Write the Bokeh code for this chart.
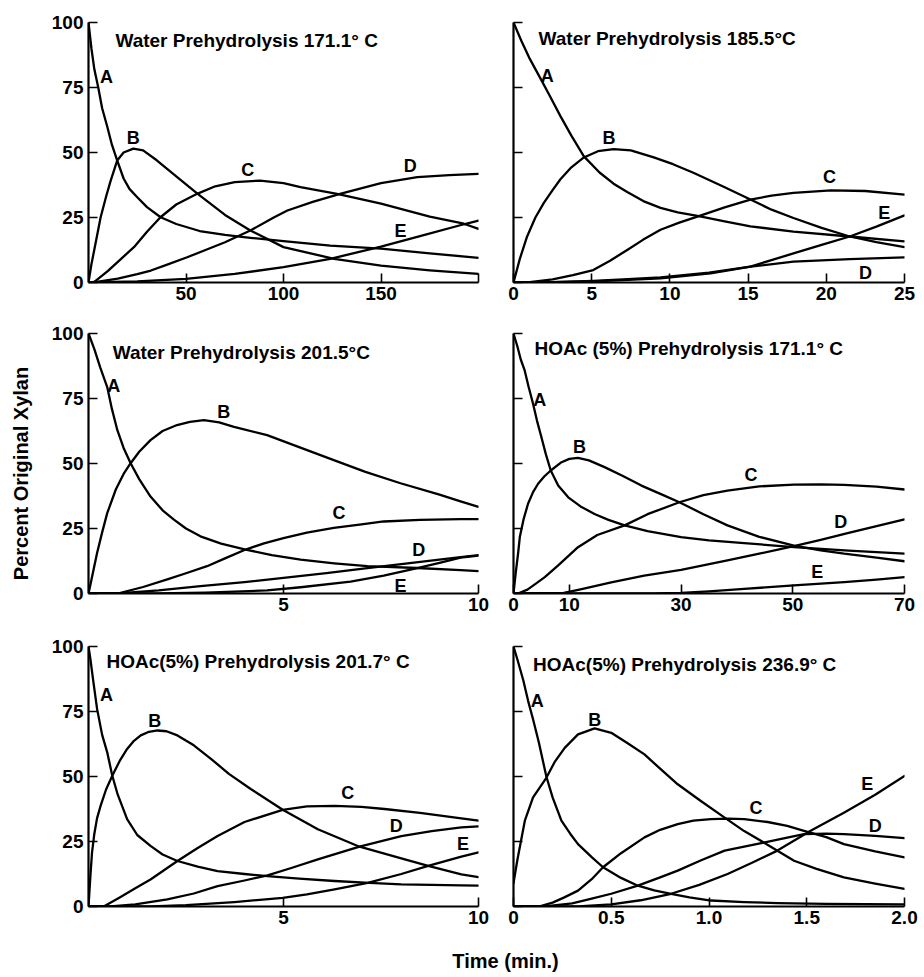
import math
from bokeh.plotting import figure
from bokeh.layouts import row, column
from bokeh.models import Range1d, FixedTicker, Label
from bokeh.core.properties import value
from bokeh.embed import file_html
from bokeh.resources import INLINE

FONT = "Liberation Sans"

# ---------------- data ----------------
# Panel 1: Water Prehydrolysis 171.1 C, time 0..200 min
P1_A_T = [0, 1.5, 3, 5, 7, 9.6, 12, 14.7, 18, 21, 25, 30, 37, 45, 57, 70, 83, 100, 124, 150, 175, 200]
P1_A = [100, 90, 82, 75, 67, 60, 53, 47, 40, 36, 32.8, 29, 25.1, 22.5, 19.8, 18.3, 17.2, 15.9, 14.2, 13, 11.2, 9.5]
P1_B_T = [0, 1.5, 3.6, 6.2, 9, 11.3, 14.7, 18, 23, 28, 35, 45, 56, 70, 83, 100, 126, 150, 175, 200]
P1_B = [0, 7, 15, 25, 33, 39, 46.9, 50, 51.5, 50.8, 47, 40.8, 34.1, 26, 20, 13.6, 9.1, 6.5, 4.7, 3.3]
P1_C_T = [0, 3, 10, 17, 23.3, 30, 36.9, 45, 55.7, 65, 75, 88, 100, 108.7, 127.5, 150, 175, 192.5, 200]
P1_C = [0, 0.2, 4.5, 9.3, 13.6, 19.5, 25.1, 30, 34.1, 37, 38.6, 39.2, 38.2, 36.7, 34.1, 30.3, 25.3, 22.6, 20.6]
P1_D_T = [0, 5, 15, 25, 32, 40, 50.6, 60, 70, 83, 95, 102, 115, 129, 150, 168.6, 185, 200]
P1_D = [0, 0.3, 1.5, 3.2, 4.6, 6.8, 9.7, 12.5, 15.5, 20, 25, 27.7, 31, 34.1, 38.2, 40.5, 41.3, 41.8]
P1_E_T = [0, 25, 50, 75, 100, 124, 150, 170, 192.5, 200]
P1_E = [0, 0.4, 1.4, 3.3, 5.9, 9.1, 13.8, 17.8, 22.4, 23.8]

# Panel 2: Water Prehydrolysis 185.5 C, time 0..25 min
P2_A_T = [0, 0.5, 1, 1.73, 2.3, 3, 3.7, 4.5, 5.5, 6.4, 7.27, 8.3, 9.4, 10.5, 11.85, 13.5, 15.15, 17.9, 21.5, 25]
P2_A = [100, 93, 86.5, 78.4, 72, 64, 56.5, 48.5, 42.3, 38, 34.8, 31.3, 28.7, 27, 25.5, 23.5, 21.6, 19.6, 17.7, 15.8]
P2_B_T = [0, 0.4, 0.87, 1.4, 1.94, 2.5, 3, 3.7, 4.5, 5.4, 6.4, 7.5, 8.97, 10.2, 11.5, 13.3, 15.15, 16.5, 17.9, 19.7, 21.5, 23.2, 25]
P2_B = [0, 9, 17.7, 25, 30.6, 35.5, 39.7, 44.3, 48.1, 50.5, 51.3, 50.8, 48.1, 45.5, 42.2, 37.2, 31.9, 28, 24.8, 21, 17.7, 15.5, 13.6]
P2_C_T = [0, 0.9, 2.5, 3.8, 5.1, 6.2, 7.27, 8.3, 9.4, 10.6, 11.85, 13.5, 15.15, 16.5, 17.9, 20.3, 22.5, 25]
P2_C = [0, 0, 1.2, 2.8, 4.8, 8.5, 12.5, 16.5, 20.3, 23, 25.5, 28.9, 31.9, 33.4, 34.5, 35.4, 35.2, 33.8]
P2_D_T = [0, 2.5, 5.1, 7, 9.4, 12.5, 15.15, 17.9, 21.5, 25]
P2_D = [0, 0.1, 0.6, 1.2, 2.0, 3.8, 6.1, 8, 9, 9.7]
P2_E_T = [0, 2.5, 5.1, 7, 9.4, 12.6, 15.15, 17.9, 19.7, 21.5, 23.2, 25]
P2_E = [0, 0.1, 0.4, 0.9, 1.6, 3.5, 6.1, 11.2, 14.5, 17.7, 21.5, 25.8]

# Panel 3: Water Prehydrolysis 201.5 C, time 0..10 min
P3_A_T = [0, 0.15, 0.3, 0.48, 0.6, 0.74, 0.9, 1.08, 1.3, 1.59, 1.9, 2.19, 2.5, 2.87, 3.4, 4.03, 4.7, 5.44, 6.3, 7.15, 8.43, 9.54, 10]
P3_A = [100, 94, 87, 79.4, 71, 62.8, 56, 50.1, 44, 37.3, 32, 28.4, 25, 22, 19.2, 16.9, 14.8, 13, 11.6, 10.5, 9.8, 9.0, 8.6]
P3_B_T = [0, 0.05, 0.12, 0.22, 0.35, 0.48, 0.7, 0.9, 1.08, 1.3, 1.59, 1.9, 2.27, 2.6, 2.96, 3.35, 3.73, 4.58, 5.4, 6.29, 7.1, 8, 9, 9.54, 10]
P3_B = [0, 3.5, 8.5, 15.6, 23.5, 30.9, 40, 46, 50.1, 54.5, 59, 62.5, 64.8, 66, 66.7, 65.8, 64.1, 60.9, 56.3, 51.3, 46.8, 42.4, 38, 35.4, 33.3]
P3_C_T = [0, 0.75, 1.4, 2.02, 2.5, 3.04, 3.5, 4.03, 4.5, 5, 5.6, 6.29, 7, 7.57, 8.5, 9.54, 10]
P3_C = [0, 0, 2.5, 5.4, 7.8, 10.5, 13.5, 16.9, 19.3, 21.3, 23.4, 25.2, 26.6, 27.7, 28.3, 28.6, 28.6]
P3_D_T = [0, 0.75, 1.8, 2.87, 4, 5, 6.1, 7.15, 8.4, 9.54, 10]
P3_D = [0, 0, 1.2, 2.8, 4.4, 6, 7.8, 9.8, 12, 14, 14.8]
P3_E_T = [0, 1.76, 3, 4.58, 5.44, 6.72, 7.57, 8.43, 9, 9.54, 10]
P3_E = [0, 0, 0.3, 1.2, 2.4, 4.6, 6.9, 9.8, 11.8, 13.8, 14.6]

# Panel 4: HOAc (5%) Prehydrolysis 171.1 C, time 0..70 min
P4_A_T = [0, 0.7, 1.3, 2, 2.7, 3.5, 4.2, 5, 5.8, 6.67, 8, 9.8, 12, 14.5, 17, 19.9, 24, 30, 35, 41.3, 50.2, 60, 70]
P4_A = [100, 95, 90, 85.8, 79.5, 73, 66.5, 60.1, 53.5, 47.3, 41.5, 37, 33.5, 30.6, 28.3, 26.2, 24, 21.7, 20.4, 19.4, 17.8, 16.5, 15.3]
P4_B_T = [0, 0.4, 0.8, 1.13, 1.8, 2.6, 3.5, 4.4, 5.5, 6.67, 8.6, 10, 11.55, 13.5, 16.3, 19.5, 22.9, 26.3, 29.7, 34, 38.3, 44, 50.2, 55, 59.2, 65, 70]
P4_B = [0, 8, 15, 21.7, 28.5, 34.5, 39, 42.2, 45, 47.3, 50.5, 51.8, 52.2, 51.2, 48.6, 45.3, 41.5, 38.3, 35.1, 30.5, 26.2, 21.8, 18.4, 16.6, 15.3, 13.8, 12.4]
P4_C_T = [0, 0.8, 2.5, 4, 5.6, 8, 11.55, 15, 19.9, 24, 29.7, 34, 38.3, 44, 50.2, 55, 59.2, 65, 70]
P4_C = [0, 0, 1.5, 3.8, 6.3, 10.8, 17.8, 22.5, 26.2, 30.5, 35.1, 37.8, 39.6, 41.2, 41.9, 42, 41.8, 41.1, 40]
P4_D_T = [0, 9, 12, 17.5, 23.4, 30, 38.3, 44, 50.2, 55, 60, 65, 70]
P4_D = [0, 0.2, 1.6, 4.3, 6.9, 9.1, 12.7, 15.3, 18.2, 20.6, 23.3, 25.9, 28.5]
P4_E_T = [0, 25, 30, 35, 41.3, 50.2, 59.2, 65, 70]
P4_E = [0, 0, 0.2, 0.8, 1.8, 3.1, 4.4, 5.3, 6.3]

# Panel 5: HOAc (5%) Prehydrolysis 201.7 C, time 0..10 min
P5_A_T = [0, 0.05, 0.12, 0.22, 0.35, 0.48, 0.61, 0.75, 0.99, 1.25, 1.59, 1.9, 2.28, 2.8, 3.31, 4, 4.59, 5.4, 6.31, 7.2, 8.02, 9.56, 10]
P5_A = [100, 95, 87, 76, 66, 59.3, 50.3, 43, 33.6, 27.5, 23.3, 20, 17.5, 15.3, 13.6, 12.5, 11.7, 10.7, 9.8, 9.1, 8.5, 8.1, 8.0]
P5_B_T = [0, 0.05, 0.09, 0.15, 0.22, 0.31, 0.45, 0.61, 0.8, 0.99, 1.15, 1.34, 1.55, 1.77, 2, 2.28, 2.7, 3.14, 3.6, 4.16, 4.98, 5.88, 6.95, 8.02, 8.71, 9.56, 10]
P5_B = [0, 12, 20.7, 28, 34, 38.7, 45, 50.3, 56, 60.6, 63.5, 65.8, 67.2, 67.7, 67.4, 65.8, 62, 56.8, 51, 45.2, 37.2, 29.7, 23, 18.5, 15.6, 12.4, 11.3]
P5_C_T = [0, 0.39, 0.8, 1.2, 1.59, 2.28, 2.8, 3.31, 4, 4.98, 5.6, 6.31, 7, 7.59, 8.5, 9.56, 10]
P5_C = [0, 0, 3.5, 7, 10.4, 17.5, 22.5, 27.1, 32.5, 37.2, 38.5, 38.7, 38.3, 37.5, 36, 33.9, 33]
P5_D_T = [0, 0.56, 1.2, 2.02, 2.7, 3.31, 4, 4.59, 5.2, 5.88, 6.95, 8.02, 8.8, 9.56, 10]
P5_D = [0, 0, 0.8, 2.7, 5, 7.8, 10, 12, 14.8, 18.1, 23, 27.1, 29, 30.4, 30.8]
P5_E_T = [0, 1.6, 2.5, 3.74, 4.98, 5.6, 6.31, 7.16, 8.02, 8.71, 9.56, 10]
P5_E = [0, 0, 0.5, 1.7, 3.3, 4.7, 6.6, 9.1, 12.5, 15.6, 19.2, 20.8]

# Panel 6: HOAc (5%) Prehydrolysis 236.9 C, time 0..2 min
P6_A_T = [0, 0.02, 0.05, 0.075, 0.1, 0.13, 0.168, 0.2, 0.245, 0.29, 0.33, 0.4, 0.458, 0.55, 0.636, 0.72, 0.806, 0.9, 1.01, 1.18, 1.35, 1.6, 2]
P6_A = [100, 95, 87, 79, 72, 63, 50, 42, 33, 28, 24, 19, 15.1, 11, 8, 6.2, 4.9, 3.5, 2.3, 1.7, 1.3, 1, 0.8]
P6_B_T = [0, 0.02, 0.058, 0.1, 0.168, 0.21, 0.262, 0.33, 0.415, 0.5, 0.58, 0.67, 0.75, 0.84, 0.96, 1.08, 1.18, 1.28, 1.435, 1.55, 1.69, 1.85, 2]
P6_B = [9, 18, 33, 42, 49.5, 55.5, 61, 66.2, 68.5, 66.8, 63, 58.5, 53, 47, 40.5, 34.2, 29, 24.6, 17.6, 14.5, 11.2, 8.8, 6.8]
P6_C_T = [0, 0.13, 0.2, 0.26, 0.33, 0.4, 0.458, 0.55, 0.67, 0.75, 0.84, 0.92, 1.01, 1.1, 1.18, 1.3, 1.4, 1.486, 1.6, 1.69, 1.85, 2]
P6_C = [0, 0, 1.5, 3.5, 6.1, 10.5, 15.1, 20.5, 26.6, 29.5, 31.7, 33, 33.6, 33.8, 33.6, 32.5, 31, 29.1, 26.7, 24, 21.2, 18.9]
P6_D_T = [0, 0.16, 0.3, 0.4, 0.5, 0.636, 0.75, 0.84, 0.96, 1.08, 1.18, 1.28, 1.4, 1.486, 1.6, 1.69, 1.85, 2]
P6_D = [0, 0, 1.2, 3, 4.9, 8, 11.2, 13.8, 17.8, 21.5, 23.0, 24.6, 26.5, 27.8, 28, 27.8, 27.2, 26.3]
P6_E_T = [0, 0.33, 0.5, 0.65, 0.806, 0.95, 1.095, 1.22, 1.35, 1.52, 1.69, 1.85, 2]
P6_E = [0, 0, 0.8, 2.4, 4.9, 8.3, 12.5, 16.8, 21.5, 29.1, 36.1, 43, 50.2]

CURVE_NAMES = ["A", "B", "C", "D", "E"]
Y_TICKS = [0, 25, 50, 75, 100]

TITLES = [
    "Water Prehydrolysis 171.1° C",
    "Water Prehydrolysis 185.5°C",
    "Water Prehydrolysis 201.5°C",
    "HOAc (5%) Prehydrolysis 171.1° C",
    "HOAc(5%) Prehydrolysis 201.7° C",
    "HOAc(5%) Prehydrolysis 236.9° C",
]
X_MAX = [200, 25, 10, 70, 10, 2.0]
X_TICKS = [[50, 100, 150, 200], [0, 5, 10, 15, 20, 25], [5, 10], [0, 10, 30, 50, 70], [5, 10], [0, 0.5, 1, 1.5, 2]]
X_TICK_LABELS = [
    {200: ""},
    {},
    {},
    {},
    {},
    {0: "0", 0.5: "0.5", 1: "1.0", 1.5: "1.5", 2: "2.0"},
]

CURVES = [
    [(P1_A_T, P1_A), (P1_B_T, P1_B), (P1_C_T, P1_C), (P1_D_T, P1_D), (P1_E_T, P1_E)],
    [(P2_A_T, P2_A), (P2_B_T, P2_B), (P2_C_T, P2_C), (P2_D_T, P2_D), (P2_E_T, P2_E)],
    [(P3_A_T, P3_A), (P3_B_T, P3_B), (P3_C_T, P3_C), (P3_D_T, P3_D), (P3_E_T, P3_E)],
    [(P4_A_T, P4_A), (P4_B_T, P4_B), (P4_C_T, P4_C), (P4_D_T, P4_D), (P4_E_T, P4_E)],
    [(P5_A_T, P5_A), (P5_B_T, P5_B), (P5_C_T, P5_C), (P5_D_T, P5_D), (P5_E_T, P5_E)],
    [(P6_A_T, P6_A), (P6_B_T, P6_B), (P6_C_T, P6_C), (P6_D_T, P6_D), (P6_E_T, P6_E)],
]

# ---------------- annotation placement (data units of each panel) ----------------
TITLE_POS = [(13.8, 93), (1.6, 93.8), (0.62, 92.7), (3.75, 94.2), (0.46, 94.2), (0.10, 93.1)]
LETTER_POS = [
    [(9.2, 79), (22.9, 55.6), (81.7, 43.3), (165, 45), (160, 20)],
    [(2.15, 79.5), (6.1, 55.4), (20.2, 40.7), (22.5, 3.8), (23.7, 26.7)],
    [(0.65, 80), (3.47, 69.9), (6.42, 30.9), (8.47, 16.9), (8.0, 2.8)],
    [(4.7, 74.5), (11.8, 56.5), (42.5, 45.4), (58.6, 27.4), (54.4, 8.2)],
    [(0.46, 81.2), (1.7, 71.5), (6.65, 43.6), (7.89, 30.8), (9.6, 24)],
    [(0.122, 79.2), (0.415, 71.9), (1.24, 38), (1.85, 31), (1.81, 47)],
]

TOP_BORDER = [22, 22, 14, 14, 14, 14]
BOTTOM_BORDER = [37, 37, 39, 39, 30, 30]


def make_panel(i):
    left = (i % 2 == 0)
    p = figure(
        frame_width=390 if left else 391,
        frame_height=260,
        x_range=Range1d(0, X_MAX[i]),
        y_range=Range1d(0, 100),
        output_backend="svg",
        toolbar_location=None,
        min_border_left=44 if left else 10,
        min_border_right=25 if left else 18,
        min_border_top=TOP_BORDER[i],
        min_border_bottom=BOTTOM_BORDER[i],
        background_fill_color="white",
        border_fill_color="white",
    )
    p.outline_line_color = None
    p.grid.visible = False

    for ax in (p.xaxis[0], p.yaxis[0]):
        ax.axis_line_width = 2.2
        ax.axis_line_color = "black"
        ax.major_tick_in = 9
        ax.major_tick_out = 0
        ax.major_tick_line_width = 1.6
        ax.major_tick_line_color = "black"
        ax.minor_tick_line_color = None
        ax.major_label_text_font = FONT
        ax.major_label_text_font_size = "19px"
        ax.major_label_text_font_style = "bold"
        ax.major_label_text_color = "black"

    p.xaxis.ticker = FixedTicker(ticks=X_TICKS[i])
    p.xaxis.major_label_standoff = 4
    if X_TICK_LABELS[i]:
        p.xaxis.major_label_overrides = X_TICK_LABELS[i]

    p.yaxis.ticker = FixedTicker(ticks=Y_TICKS)
    if left:
        p.yaxis.major_label_standoff = 5
    else:
        p.yaxis.major_label_standoff = 0
        p.yaxis.major_label_overrides = {t: "" for t in Y_TICKS}

    for (t, y) in CURVES[i]:
        p.line(t, y, line_color="black", line_width=2.3, line_join="round", line_cap="round")

    lx = [pos[0] for pos in LETTER_POS[i]]
    ly = [pos[1] for pos in LETTER_POS[i]]
    p.text(x=lx, y=ly, text=CURVE_NAMES, text_font=value(FONT), text_font_size="18px",
           text_font_style="bold", text_align="center", text_baseline="middle", text_color="black")

    tx, ty = TITLE_POS[i]
    p.add_layout(Label(x=tx, y=ty, text=TITLES[i], text_font=FONT, text_font_size="19px",
                       text_font_style="bold", text_align="left", text_baseline="middle",
                       text_color="black"))
    return p


panels = [make_panel(i) for i in range(6)]

# y-axis title column (rows total 936 px tall)
YLAB_H = 936
ylab = figure(frame_width=44, frame_height=YLAB_H, x_range=Range1d(0, 44), y_range=Range1d(0, YLAB_H),
              x_axis_location=None, y_axis_location=None, min_border=0,
              output_backend="svg", toolbar_location=None)
ylab.outline_line_color = None
ylab.grid.visible = False
ylab.text(x=[20], y=[YLAB_H - 473], text=["Percent Original Xylan"], angle=math.pi / 2,
          text_font=value(FONT), text_font_size="20px", text_font_style="bold",
          text_align="center", text_baseline="middle", text_color="black")

# x-axis title row
XLAB_W = 878
XLAB_H = 38
xlab = figure(frame_width=XLAB_W, frame_height=XLAB_H, x_range=Range1d(0, XLAB_W), y_range=Range1d(0, XLAB_H),
              x_axis_location=None, y_axis_location=None, min_border=0,
              output_backend="svg", toolbar_location=None)
xlab.outline_line_color = None
xlab.grid.visible = False
xlab.text(x=[505 - 44], y=[XLAB_H - 24], text=["Time (min.)"], text_font=value(FONT), text_font_size="20px",
          text_font_style="bold", text_align="center", text_baseline="middle", text_color="black")

grid = column(row(panels[0], panels[1]), row(panels[2], panels[3]), row(panels[4], panels[5]), xlab)
layout = row(ylab, grid)

open("out.html", "w").write(file_html(layout, INLINE, "Xylan prehydrolysis"))
